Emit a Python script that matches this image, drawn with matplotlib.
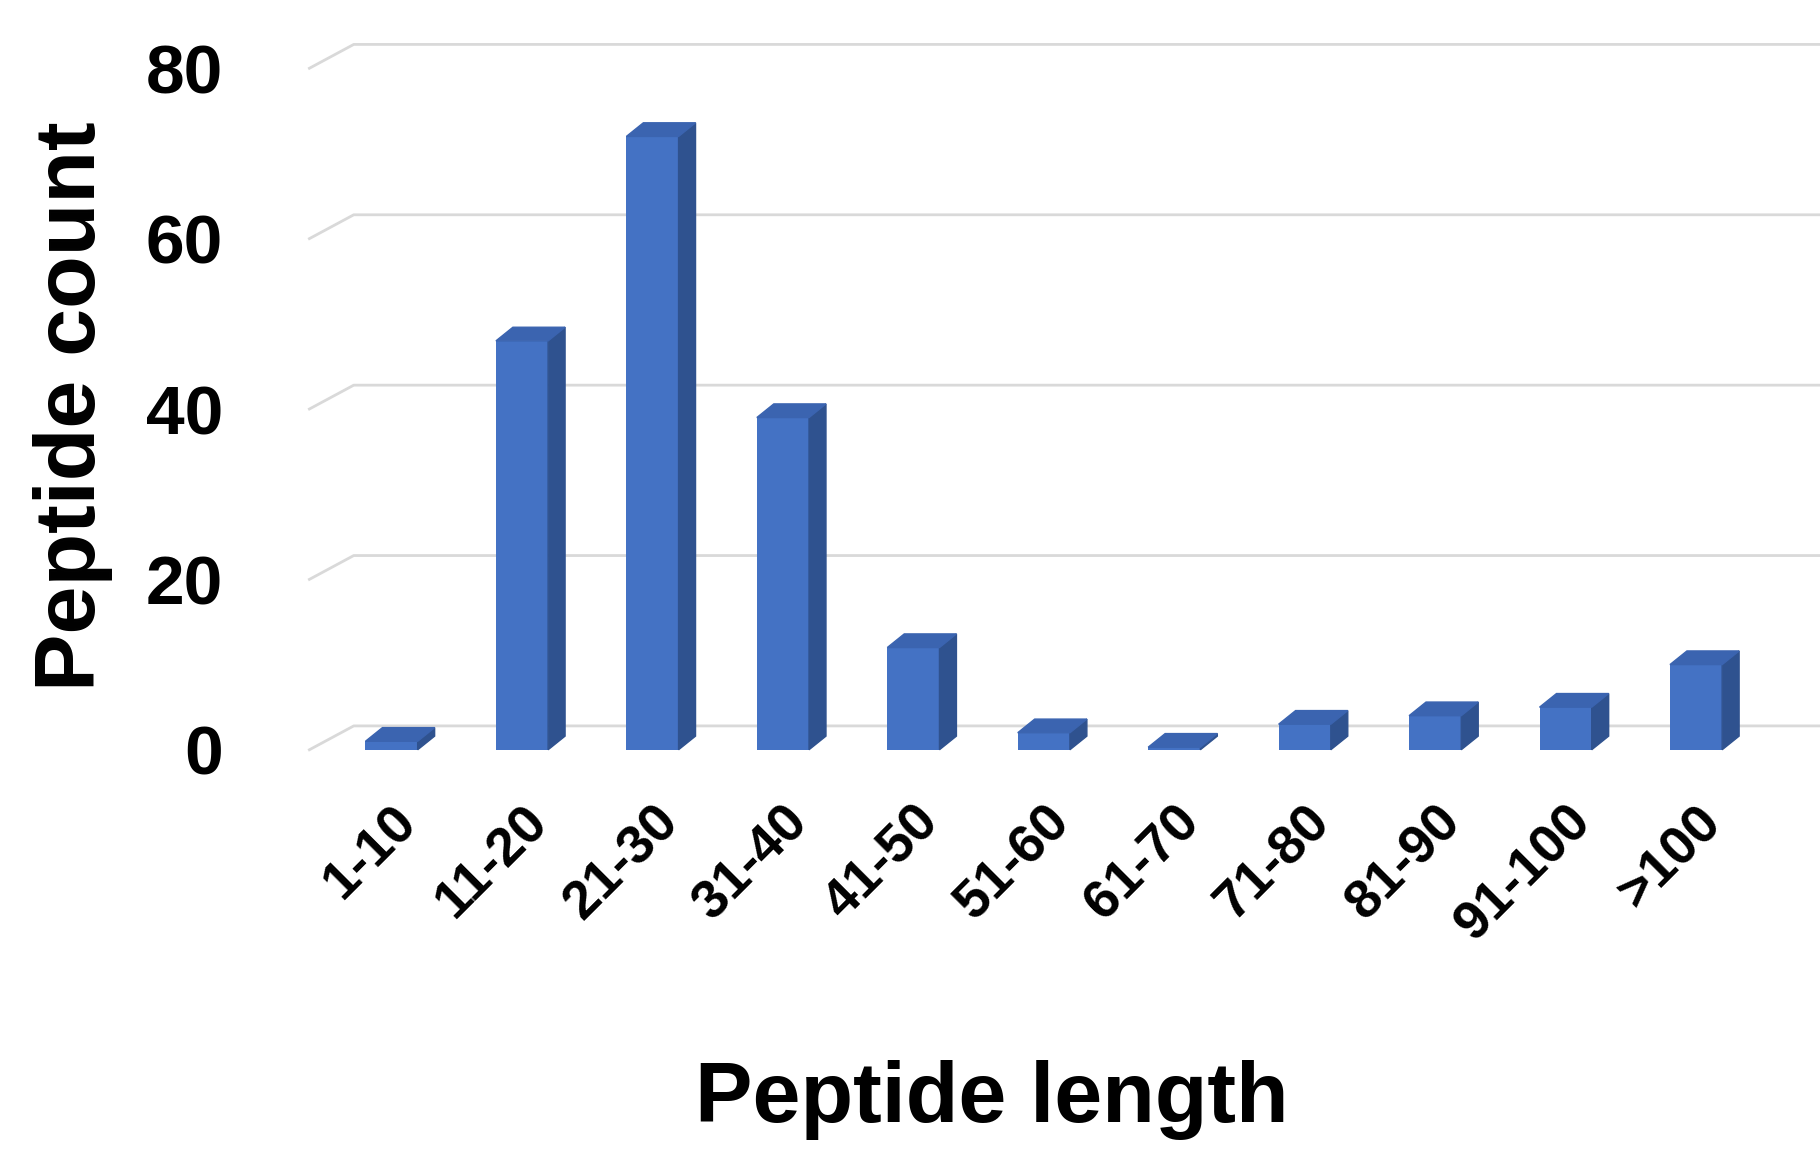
import matplotlib.pyplot as plt
from matplotlib.patches import Polygon
import numpy as np

plt.rcParams['font.family'] = ['Liberation Sans', 'DejaVu Sans']

categories = ["1-10", "11-20", "21-30", "31-40", "41-50", "51-60",
              "61-70", "71-80", "81-90", "91-100", ">100"]
counts = [1, 48, 72, 39, 12, 2, 0.3, 3, 4, 5, 10]
yticks = [0, 20, 40, 60, 80]

front = "#4472C4"
side = "#2F528F"
top = "#3B64B0"

fig = plt.figure(figsize=(18.2, 11.58), dpi=100)
ax = fig.add_axes([0.17, 0.329, 0.83, 0.64])
xmin, xmax = -0.63, 10.95
ax.set_xlim(xmin, xmax)
ax.set_ylim(-3.2, 83.8)

# back wall gridlines with a slanted floor edge
wdx, wdy = 0.34, 2.8
for v in yticks:
    ax.plot([xmin, xmin + wdx, xmax], [v, v + wdy, v + wdy],
            color="#d9d9d9", lw=2, zorder=0, clip_on=False)

x = np.arange(len(categories))
w = 0.4
dx, dy = 0.13, 1.6
ax.bar(x, counts, w, color=front, zorder=3)
for xi, v in zip(x, counts):
    r = xi + w / 2
    l = xi - w / 2
    ax.add_patch(Polygon([(r, 0), (r + dx, dy), (r + dx, v + dy), (r, v)],
                         closed=True, color=side, zorder=3))
    ax.add_patch(Polygon([(l, v), (l + dx, v + dy), (r + dx, v + dy), (r, v)],
                         closed=True, color=top, zorder=3))

ax.set_yticks(yticks)
ax.set_yticklabels([str(t) for t in yticks], fontsize=50, fontweight='bold')
ax.tick_params(axis='y', length=0, pad=62)
ax.set_xticks(x)
ax.set_xticklabels(categories, fontsize=39, fontweight='bold',
                   rotation=45, ha='right', va='top', rotation_mode='anchor')
ax.tick_params(axis='x', length=0, pad=14)
for s in ax.spines.values():
    s.set_visible(False)

ax.set_ylabel("Peptide count", fontsize=62, fontweight='bold', labelpad=24)
fig.text(0.545, 0.05, "Peptide length", fontsize=62, fontweight='bold',
         ha='center', va='center')

plt.savefig("out.png")
